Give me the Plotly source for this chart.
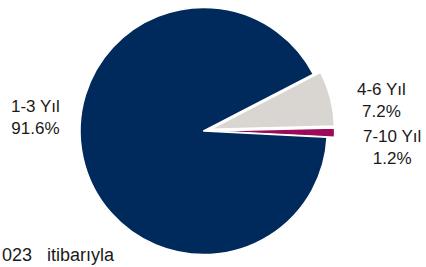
import plotly.graph_objects as go

# Data
categories = ["4-6 Yıl", "7-10 Yıl", "1-3 Yıl"]
shares = [7.2, 1.2, 91.6]
colors = ["#D9D5D0", "#9C0A59", "#002A5C"]
footnote = "023   itibarıyla"

W, H = 426, 267

fig = go.Figure()
fig.add_trace(go.Pie(
    labels=categories,
    values=shares,
    sort=False,
    direction="clockwise",
    rotation=62.6,
    pull=[0.06, 0.06, 0],
    marker=dict(colors=colors, line=dict(color="white", width=1.5)),
    textinfo="none",
    hoverinfo="label+percent",
    showlegend=False,
    domain=dict(x=[0.1, 0.856], y=[0.0187, 1.0]),
))

label_pos = {
    "1-3 Yıl": (35, 118),
    "4-6 Yıl": (381, 100),
    "7-10 Yıl": (392, 147.5),
}
font = dict(family="Liberation Sans, Arial, sans-serif", size=17, color="#1a1a1a")
for cat, val in zip(categories, shares):
    px, py = label_pos[cat]
    fig.add_annotation(
        x=px / W, y=1 - py / H, xref="paper", yref="paper",
        text=f"{cat}<br>{val:.1f}%", showarrow=False,
        xanchor="center", yanchor="middle", align="center", font=font,
    )

fig.add_annotation(
    x=0, y=0.0, xref="paper", yref="paper", text=footnote, showarrow=False,
    xanchor="left", yanchor="bottom", align="left",
    font=dict(family="Liberation Sans, Arial, sans-serif", size=18, color="#1a1a1a"),
)

fig.update_layout(
    width=W, height=H,
    margin=dict(l=0, r=0, t=0, b=0),
    paper_bgcolor="white", plot_bgcolor="white",
)

fig.write_html(
    "out.html",
    config={"displayModeBar": False},
    post_script="document.body.style.margin='0';document.body.style.overflow='hidden';",
)
